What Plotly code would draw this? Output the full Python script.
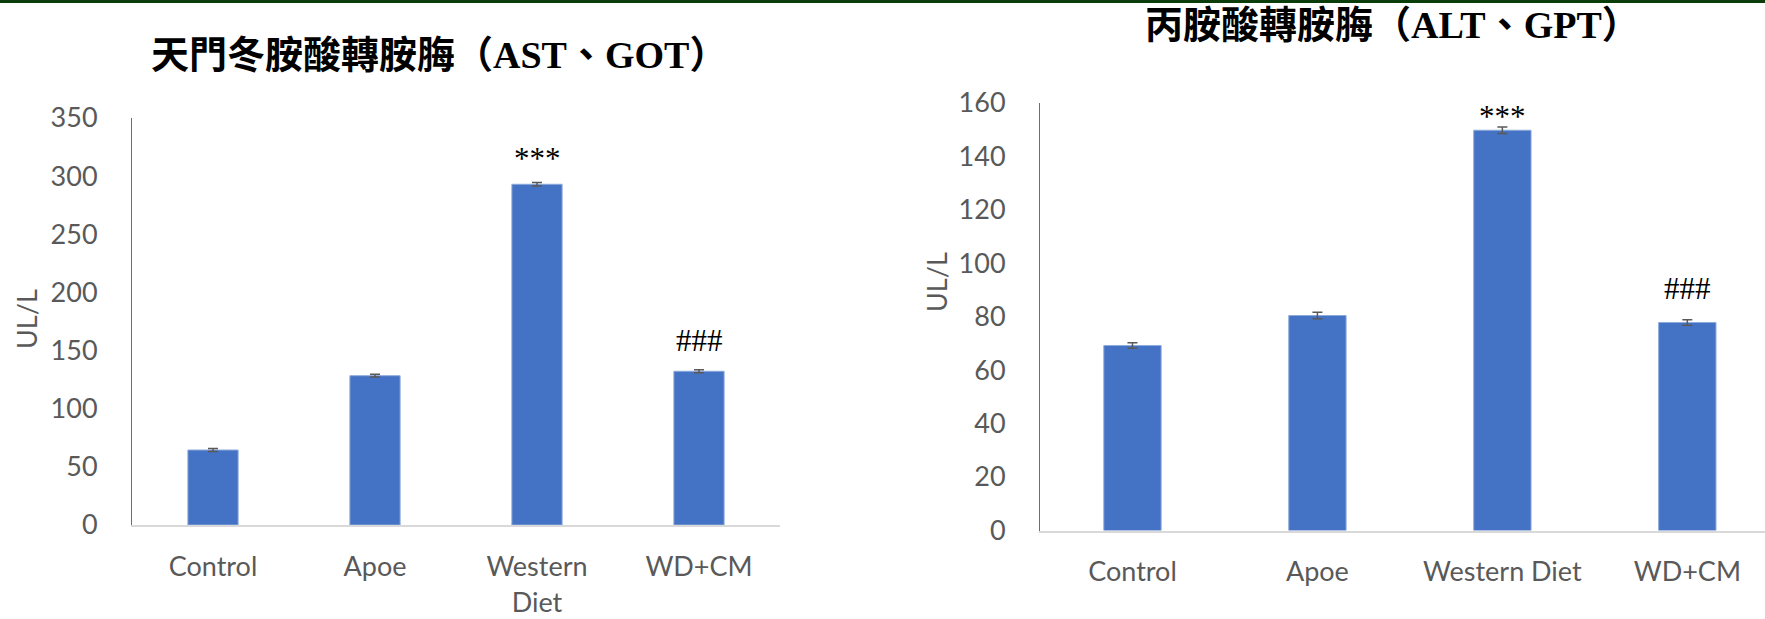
import plotly.graph_objects as go
from plotly.subplots import make_subplots

# data
groups_ast = ['Control', 'Apoe', 'Western<br>Diet', 'WD+CM']
groups_alt = ['Control', 'Apoe', 'Western Diet', 'WD+CM']
ast_vals = [64.5, 128.4, 293.0, 132.2]
ast_err = [1.2, 1.2, 1.5, 1.3]
alt_vals = [69.2, 80.4, 149.7, 77.8]
alt_err = [1.0, 1.2, 1.2, 1.0]
ast_marks = ['', '', '***', '###']
ast_mark_y = [0, 0, 315, 159]
alt_marks = ['', '', '***', '###']
alt_mark_y = [0, 0, 155, 90.5]

bar_color = '#4472C4'
tick_color = '#595959'
tick_font = dict(family='Lato, Open Sans, sans-serif', size=27, color=tick_color)
title_font = dict(family='Liberation Serif, Noto Sans CJK TC, serif', size=38, color='black')
mark_font = dict(family='Liberation Serif, serif', size=31, color='black')

fig = make_subplots(rows=1, cols=2)

fig.add_trace(go.Bar(x=groups_ast, y=ast_vals, marker_color=bar_color,
                     marker_line=dict(color='#8eaadb', width=1),
                     error_y=dict(type='data', array=ast_err, color='#595959', thickness=1.5, width=5),
                     showlegend=False), row=1, col=1)
fig.add_trace(go.Bar(x=groups_alt, y=alt_vals, marker_color=bar_color,
                     marker_line=dict(color='#8eaadb', width=1),
                     error_y=dict(type='data', array=alt_err, color='#595959', thickness=1.5, width=5),
                     showlegend=False), row=1, col=2)

# significance marks
annotations = []
for g, m, y in zip(groups_ast, ast_marks, ast_mark_y):
    if m:
        annotations.append(dict(x=g, y=y, xref='x', yref='y', text=m, showarrow=False,
                                font=mark_font, xanchor='center', yanchor='middle'))
for g, m, y in zip(groups_alt, alt_marks, alt_mark_y):
    if m:
        annotations.append(dict(x=g, y=y, xref='x2', yref='y2', text=m, showarrow=False,
                                font=mark_font, xanchor='center', yanchor='middle'))

# chart titles and y titles
annotations += [
    dict(x=0.2487, y=(619 - 55) / 619, xref='paper', yref='paper', showarrow=False,
         xanchor='center', yanchor='middle',
         text='<b>天門冬胺酸轉胺脢（AST、GOT）</b>', font=title_font),
    dict(x=0.789, y=(619 - 25) / 619, xref='paper', yref='paper', showarrow=False,
         xanchor='center', yanchor='middle',
         text='<b>丙胺酸轉胺脢（ALT、GPT）</b>', font=title_font),
    dict(x=27 / 1765, y=(619 - 319) / 619, xref='paper', yref='paper', showarrow=False,
         xanchor='center', yanchor='middle',
         text='UL/L', textangle=-90, font=tick_font),
    dict(x=936 / 1765, y=(619 - 282) / 619, xref='paper', yref='paper', showarrow=False,
         xanchor='center', yanchor='middle',
         text='UL/L', textangle=-90, font=tick_font),
]

fig.update_layout(
    width=1765, height=619,
    margin=dict(l=0, r=0, t=0, b=0, pad=0),
    paper_bgcolor='white', plot_bgcolor='white',
    bargap=0.69,
    annotations=annotations,
    shapes=[dict(type='rect', xref='paper', yref='paper', x0=0, x1=1, y0=1 - 3 / 619, y1=1,
                 fillcolor='#0b3d0b', line_width=0)],
    xaxis=dict(domain=[132 / 1765, 780 / 1765], range=[-0.5, 3.5], showline=True, linecolor='#d9d9d9',
               linewidth=2, ticks='', tickfont=tick_font, ticklabelstandoff=17, showgrid=False,
               automargin=False),
    yaxis=dict(domain=[(619 - 525) / 619, (619 - 118) / 619], range=[0, 350], dtick=50, showline=True,
               linecolor=bar_color, linewidth=1, ticks='', tickfont=tick_font, ticklabelstandoff=28,
               showgrid=False, zeroline=False, automargin=False),
    xaxis2=dict(domain=[1040 / 1765, 1.0], range=[-0.5, 3.42], showline=True, linecolor='#d9d9d9',
                linewidth=2, ticks='', tickfont=tick_font, ticklabelstandoff=16, showgrid=False,
                automargin=False),
    yaxis2=dict(domain=[(619 - 530.5) / 619, (619 - 102.7) / 619], range=[0, 160], dtick=20, showline=True,
                linecolor=bar_color, linewidth=1, ticks='', tickfont=tick_font, ticklabelstandoff=28,
                showgrid=False, zeroline=False, automargin=False),
)

fig.write_html("out.html", config={'displayModeBar': False},
               post_script="document.body.style.margin='0';")
